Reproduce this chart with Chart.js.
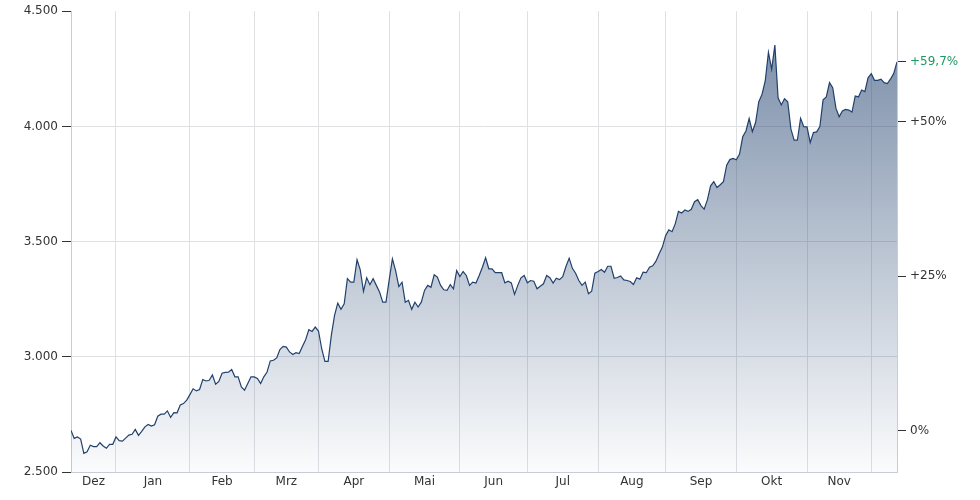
<!DOCTYPE html>
<html>
<head>
<meta charset="utf-8">
<script src="https://cdn.jsdelivr.net/npm/chart.js@4.4.1/dist/chart.umd.min.js"></script>
<style>
  html, body { margin: 0; padding: 0; background: #fff; }
  #wrap { width: 980px; height: 500px; }
</style>
</head>
<body>
<div id="wrap"><canvas id="chart" width="980" height="500"></canvas></div>
<script>
// Monatsnamen (Achsenbeschriftung)
const months = ['Dez', 'Jan', 'Feb', 'Mrz', 'Apr', 'Mai', 'Jun', 'Jul', 'Aug', 'Sep', 'Okt', 'Nov'];

// Index des ersten Handelstags je Monat (letzter Wert = Dez)
const monthStarts = [0, 14, 37, 57, 77, 99, 121, 142, 164, 185, 207, 229, 249];

// Schlusskurse (Handelstage)
const prices = [
    2680, 2646, 2652, 2643, 2581, 2588, 2616, 2610, 2610, 2627, 2613, 2603, 2620, 2620,
    2652, 2636, 2634, 2647, 2660, 2664, 2685, 2659, 2676, 2696, 2706, 2699, 2705, 2742,
    2751, 2751, 2765, 2737, 2758, 2757, 2791, 2797, 2812, 2836, 2861, 2852, 2858, 2901,
    2895, 2898, 2921, 2881, 2893, 2929, 2932, 2933, 2945, 2913, 2913, 2869,
    2855, 2884, 2913, 2913, 2906, 2884, 2913, 2934, 2982, 2985, 2995, 3031, 3045, 3042,
    3021, 3010, 3018, 3014, 3045, 3074, 3118, 3110, 3129, 3112, 3035, 2980, 2980, 3093,
    3180, 3233, 3206, 3230, 3339, 3324, 3324, 3421, 3377, 3284, 3343, 3313, 3339, 3310,
    3281, 3237, 3237, 3334, 3425, 3374, 3305, 3324, 3237, 3245,
    3206, 3237, 3216, 3237, 3288, 3310, 3302, 3356, 3346, 3310, 3291, 3288, 3313, 3295,
    3374, 3348, 3370, 3353, 3310, 3324, 3320, 3353, 3389, 3430, 3382, 3382, 3365, 3365,
    3365, 3321, 3328, 3321, 3271, 3310, 3343, 3353, 3321, 3331, 3328, 3295, 3306, 3317,
    3353, 3343, 3320, 3341, 3335, 3348, 3392, 3428, 3384, 3363, 3331, 3310, 3324, 3274,
    3285, 3363,
    3370, 3379, 3367, 3393, 3393, 3341, 3344, 3351, 3334, 3331, 3327, 3314, 3343, 3337,
    3367, 3365, 3389, 3395, 3415, 3447, 3476, 3526, 3551, 3543, 3577, 3631, 3624, 3637,
    3631, 3640, 3673, 3682, 3656, 3641, 3681, 3742, 3760, 3735, 3747, 3760, 3832, 3856,
    3861, 3855,
    3880, 3955, 3980, 4034, 3977, 4017, 4107, 4139, 4197, 4322, 4248, 4353, 4124, 4093,
    4120, 4107, 3988, 3940, 3940, 4035, 3999, 3998, 3930, 3973, 3976, 3999, 4115, 4128,
    4190, 4168, 4079, 4042, 4067, 4074, 4071, 4062, 4132, 4128, 4158, 4151, 4211, 4229,
    4200, 4200, 4205, 4190, 4186, 4206, 4230, 4280
];

// Prozent-Ticks der rechten Achse
const pctTicks = [0, 25, 50];

const base = prices[0];
const last = prices[prices.length - 1];
const lastPct = (last / base - 1) * 100;

// Beschriftungen mittig im Monat
const labelPos = [];
for (let i = 0; i < months.length; i++) {
    labelPos.push((monthStarts[i] + monthStarts[i + 1]) / 2);
}

const TEXT = '#333333';
const GREEN = '#1e9a62';
const GRID = '#dfe0e4';
const BORDER = '#c9ccd2';
const FONT = { family: 'DejaVu Sans, Verdana, sans-serif', size: 12 };

function fmtDe(v) {
    return String(Math.round(v)).replace(/\B(?=(\d{3})+(?!\d))/g, '.');
}

function fmtPct(p) {
    if (Math.abs(p) < 0.05) return '0%';
    const s = Number.isInteger(p) ? String(p) : p.toFixed(1).replace('.', ',');
    return (p > 0 ? '+' : '') + s + '%';
}

const pctValues = pctTicks.concat([lastPct]);

const ctx = document.getElementById('chart').getContext('2d');

new Chart(ctx, {
    type: 'line',
    data: {
        datasets: [{
            data: prices.map((v, i) => ({ x: i, y: v })),
            borderColor: '#21416c',
            borderWidth: 1.2,
            pointRadius: 0,
            tension: 0,
            fill: 'start',
            backgroundColor: (c) => {
                const area = c.chart.chartArea;
                if (!area) return 'rgba(30,60,105,0.3)';
                const g = c.chart.ctx.createLinearGradient(0, area.top, 0, area.bottom);
                g.addColorStop(0, 'rgba(32,64,110,0.62)');
                g.addColorStop(1, 'rgba(32,64,110,0.02)');
                return g;
            }
        }]
    },
    options: {
        responsive: false,
        animation: false,
        layout: { padding: { top: 10, left: 0, right: 0, bottom: 0 } },
        plugins: {
            legend: { display: false },
            tooltip: { enabled: false }
        },
        scales: {
            x: {
                type: 'linear',
                min: 0,
                max: prices.length - 1,
                afterBuildTicks: (axis) => {
                    const t = monthStarts.slice(1).concat(labelPos).sort((a, b) => a - b);
                    axis.ticks = t.map(v => ({ value: v }));
                },
                afterFit: (axis) => { axis.height = 28; },
                grid: {
                    drawTicks: false,
                    color: (c) => (c.tick && monthStarts.includes(c.tick.value) ? GRID : 'rgba(0,0,0,0)'),
                    lineWidth: 1
                },
                border: { color: BORDER },
                ticks: {
                    autoSkip: false,
                    maxRotation: 0,
                    padding: 3,
                    color: TEXT,
                    font: FONT,
                    callback: (value) => {
                        const k = labelPos.indexOf(value);
                        return k >= 0 ? months[k] : '';
                    }
                }
            },
            y: {
                position: 'left',
                min: 2500,
                max: 4500,
                afterFit: (axis) => { axis.width = 71; },
                ticks: {
                    stepSize: 500,
                    padding: 4,
                    color: TEXT,
                    font: FONT,
                    callback: (v) => fmtDe(v)
                },
                grid: {
                    color: (c) => (c.tick && (c.tick.value === 4500 || c.tick.value === 2500) ? 'rgba(0,0,0,0)' : GRID),
                    tickColor: TEXT,
                    tickLength: 9
                },
                border: { color: BORDER }
            },
            y2: {
                position: 'right',
                min: 2500,
                max: 4500,
                afterBuildTicks: (axis) => {
                    axis.ticks = pctValues.map(p => ({ value: base * (1 + p / 100) }));
                },
                afterFit: (axis) => { axis.width = 83; },
                ticks: {
                    padding: 4,
                    font: FONT,
                    color: (c) => (c.index === pctValues.length - 1 ? GREEN : TEXT),
                    callback: (v, i) => fmtPct(pctValues[i])
                },
                grid: {
                    drawOnChartArea: false,
                    tickColor: TEXT,
                    tickLength: 9
                },
                border: { color: BORDER }
            }
        }
    }
});
</script>
</body>
</html>
